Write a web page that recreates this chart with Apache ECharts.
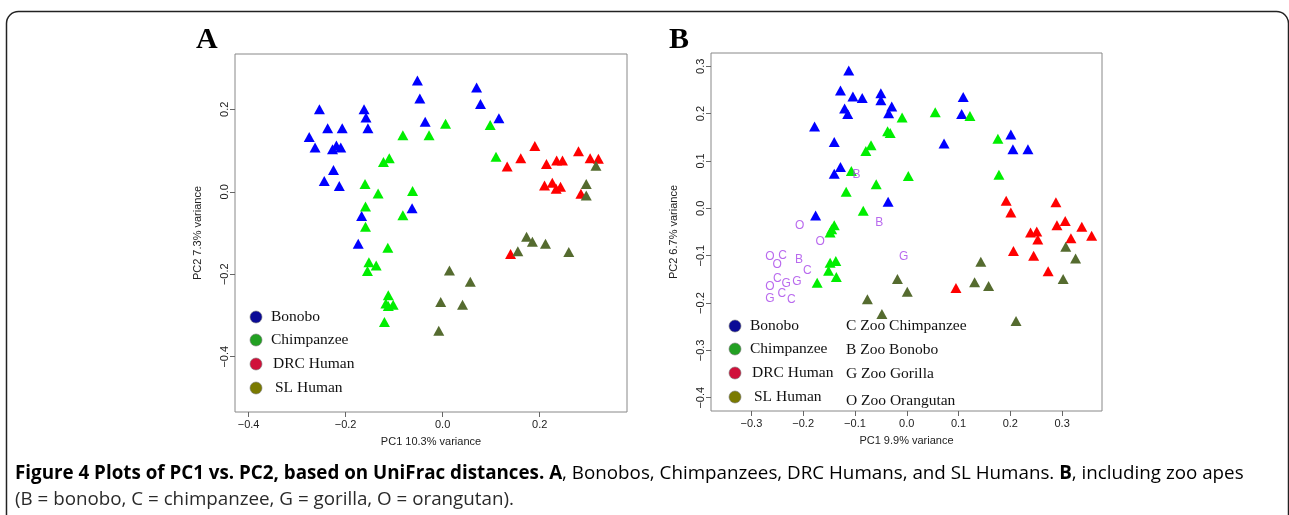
<!DOCTYPE html>
<html><head><meta charset="utf-8">
<script src="https://cdn.jsdelivr.net/npm/echarts@6/dist/echarts.min.js"></script>
<style>html,body{margin:0;padding:0;background:#fff}#c{width:1289px;height:515px}</style>
</head><body><div id="c"></div>
<script>
// ---------- Panel A data (PC1, PC2) ----------
const bonoboA = [[-0.254,0.200],[-0.275,0.133],[-0.263,0.107],[-0.237,0.154],[-0.207,0.154],[-0.219,0.112],[-0.227,0.103],[-0.210,0.107],[-0.225,0.053],[-0.244,0.026],[-0.213,0.014],[-0.162,0.200],[-0.158,0.180],[-0.154,0.154],[-0.052,0.270],[-0.047,0.226],[-0.036,0.170],[0.070,0.253],[0.078,0.213],[0.116,0.178],[-0.063,-0.040],[-0.167,-0.059],[-0.174,-0.126]];
const chimpA = [[0.006,0.165],[-0.082,0.137],[-0.028,0.137],[0.098,0.162],[0.110,0.085],[-0.122,0.072],[-0.110,0.081],[-0.160,0.019],[-0.133,-0.004],[-0.062,0.002],[-0.159,-0.036],[-0.082,-0.057],[-0.159,-0.085],[-0.113,-0.136],[-0.152,-0.171],[-0.137,-0.179],[-0.155,-0.192],[-0.112,-0.251],[-0.117,-0.271],[-0.112,-0.277],[-0.102,-0.274],[-0.120,-0.316]];
const drcA = [[0.190,0.111],[0.161,0.081],[0.133,0.061],[0.214,0.067],[0.235,0.076],[0.247,0.076],[0.280,0.098],[0.304,0.081],[0.321,0.080],[0.210,0.015],[0.226,0.022],[0.234,0.007],[0.243,0.012],[0.285,-0.005],[0.140,-0.151]];
const slA = [[0.316,0.063],[0.296,0.019],[0.296,-0.009],[0.173,-0.109],[0.185,-0.121],[0.212,-0.126],[0.155,-0.144],[0.260,-0.146],[0.014,-0.191],[0.057,-0.218],[-0.004,-0.267],[0.041,-0.274],[-0.008,-0.337]];

// ---------- Panel B data ----------
const bonoboB = [[-0.112,0.291],[-0.128,0.249],[-0.104,0.236],[-0.086,0.233],[-0.120,0.211],[-0.114,0.199],[-0.050,0.243],[-0.050,0.228],[-0.029,0.215],[-0.035,0.201],[0.109,0.235],[0.106,0.199],[0.072,0.137],[-0.178,0.173],[-0.140,0.140],[-0.128,0.087],[-0.140,0.073],[-0.036,0.014],[-0.176,-0.015],[0.201,0.156],[0.205,0.125],[0.234,0.125]];
const chimpB = [[0.055,0.203],[0.122,0.195],[-0.009,0.192],[-0.037,0.163],[-0.032,0.159],[-0.069,0.133],[-0.079,0.121],[-0.107,0.079],[-0.059,0.051],[0.003,0.068],[-0.117,0.035],[-0.084,-0.005],[0.176,0.147],[0.178,0.071],[-0.140,-0.036],[-0.145,-0.044],[-0.148,-0.051],[-0.148,-0.115],[-0.137,-0.111],[-0.151,-0.132],[-0.136,-0.145],[-0.173,-0.157]];
const drcB = [[0.192,0.016],[0.201,-0.009],[0.288,0.013],[0.290,-0.036],[0.306,-0.027],[0.338,-0.039],[0.357,-0.058],[0.239,-0.051],[0.251,-0.049],[0.253,-0.066],[0.317,-0.063],[0.206,-0.090],[0.245,-0.100],[0.273,-0.133],[0.095,-0.168]];
const slB = [[0.307,-0.081],[0.326,-0.106],[0.143,-0.113],[-0.018,-0.149],[0.001,-0.176],[-0.076,-0.192],[-0.048,-0.223],[0.131,-0.156],[0.158,-0.164],[0.302,-0.149],[0.211,-0.238]];
const zooC = [[-0.240,-0.101],[-0.192,-0.132],[-0.250,-0.148],[-0.241,-0.181],[-0.223,-0.192]];
const zooB = [[-0.097,0.070],[-0.053,-0.030],[-0.208,-0.108]];
const zooG = [[-0.233,-0.159],[-0.212,-0.155],[-0.264,-0.190],[-0.006,-0.102]];
const zooO = [[-0.207,-0.036],[-0.167,-0.070],[-0.264,-0.102],[-0.250,-0.120],[-0.264,-0.166]];

// ---------- ticks / labels ----------
const xTicksA = [-0.4,-0.2,0.0,0.2];
const yTicksA = [-0.4,-0.2,0.0,0.2];
const xTicksB = [-0.3,-0.2,-0.1,0.0,0.1,0.2,0.3];
const yTicksB = [-0.4,-0.3,-0.2,-0.1,0.0,0.1,0.2,0.3];
const groupNames = ['Bonobo','Chimpanzee','DRC Human','SL Human'];
const zooLetters = ['C','B','G','O'];
const zooLegend = ['C Zoo Chimpanzee','B Zoo Bonobo','G Zoo Gorilla','O Zoo Orangutan'];
const captionBold = 'Figure 4 Plots of PC1 vs. PC2, based on UniFrac distances.';

const pointColors = ['#0000ff','#00ee00','#ff0000','#556b2f'];
const legendColors = ['#0a0a96','#22a022','#d0103a','#7a7a00'];
const zooColor = '#a845ea';

const chart = echarts.init(document.getElementById('c'), null, {renderer:'canvas'});
const fmt = v => (Math.abs(v) < 1e-9 ? '0.0' : v.toFixed(1)).replace('-', '\u2212');
const axisCommon = (ticks, name, gap, isY) => ({
  type:'value', name, nameLocation:'middle', nameGap:gap,
  nameTextStyle:{fontFamily:'Liberation Sans', fontSize:11, color:'#222'},
  axisLine:{show:false, onZero:false}, splitLine:{show:false},
  axisTick:{show:true, inside:false, length:5, lineStyle:{color:'#666'}, customValues:ticks},
  axisLabel:{show:true, fontFamily:'Liberation Sans', fontSize:11, color:'#222', customValues:ticks,
    formatter:fmt, rotate: isY ? 90 : 0, margin: isY ? 5 : 7}
});

const tri = (data, color, xi) => ({type:'scatter', xAxisIndex:xi, yAxisIndex:xi, data,
  symbol:'triangle', symbolSize:[11,10], itemStyle:{color, opacity:1}, silent:true});
const letters = (data, letter) => ({type:'scatter', xAxisIndex:1, yAxisIndex:1, data,
  symbol:'circle', symbolSize:1, itemStyle:{color:'rgba(0,0,0,0)'}, silent:true,
  label:{show:true, position:'inside', formatter:letter, color:zooColor,
    fontFamily:'Liberation Sans', fontSize:12}});

const graphics = [];
graphics.push({type:'rect', shape:{x:6.5,y:11.5,width:1282,height:540,r:12},
  style:{fill:'none', stroke:'#222', lineWidth:1.5}, silent:true});
graphics.push({type:'text', left:196, top:25, style:{text:'A', font:'bold 30px "Liberation Serif"', fill:'#000'}});
graphics.push({type:'text', left:669, top:25, style:{text:'B', font:'bold 30px "Liberation Serif"', fill:'#000'}});
const legA = {cx:256, ys:[317,340,364,388], tx:[271,271,273,275]};
const legB = {cx:735, ys:[326,349,373,397], tx:[750,750,752,754]};
[legA, legB].forEach(L => {
  groupNames.forEach((n,i) => {
    graphics.push({type:'circle', shape:{cx:L.cx, cy:L.ys[i], r:6}, style:{fill:legendColors[i], stroke:'#777', lineWidth:0.6}});
    graphics.push({type:'text', x:L.tx[i], y:L.ys[i], style:{text:n, font:'15.5px "Liberation Serif"', fill:'#111', verticalAlign:'middle'}});
  });
});
const zooYs = [326,350,374,401];
zooLegend.forEach((n,i) => graphics.push({type:'text', x:846, y:zooYs[i],
  style:{text:n, font:'15.5px "Liberation Serif"', fill:'#111', verticalAlign:'middle'}}));
graphics.push({type:'text', x:15, y:474, style:{
  text:'{b|'+captionBold+' A}{n|, Bonobos, Chimpanzees, DRC Humans, and SL Humans. }{b|B}{n|, including zoo apes}',
  verticalAlign:'middle',
  rich:{b:{fontFamily:'Open Sans', fontWeight:'bold', fontSize:18.8, color:'#231f20'},
        n:{fontFamily:'Open Sans', fontSize:18.8, color:'#2a2a2a'}}}});
graphics.push({type:'text', x:15, y:500, style:{text:'(B = bonobo, C = chimpanzee, G = gorilla, O = orangutan).',
  font:'18.8px "Open Sans"', fill:'#2a2a2a', verticalAlign:'middle'}});

chart.setOption({
  animation:false,
  grid:[
    {left:235, top:54, width:392, height:358, show:true, borderColor:'#888', borderWidth:1, backgroundColor:'transparent'},
    {left:711, top:53, width:391, height:358, show:true, borderColor:'#888', borderWidth:1, backgroundColor:'transparent'}
  ],
  xAxis:[
    Object.assign(axisCommon(xTicksA,'PC1 10.3% variance',24,false),{gridIndex:0,min:-0.428,max:0.38}),
    Object.assign(axisCommon(xTicksB,'PC1 9.9% variance',24,false),{gridIndex:1,min:-0.378,max:0.377})
  ],
  yAxis:[
    Object.assign(axisCommon(yTicksA,'PC2 7.3% variance',32,true),{gridIndex:0,min:-0.534,max:0.334}),
    Object.assign(axisCommon(yTicksB,'PC2 6.7% variance',32,true),{gridIndex:1,min:-0.428,max:0.328})
  ],
  series:[
    tri(bonoboA,pointColors[0],0), tri(chimpA,pointColors[1],0), tri(drcA,pointColors[2],0), tri(slA,pointColors[3],0),
    tri(bonoboB,pointColors[0],1), tri(chimpB,pointColors[1],1), tri(drcB,pointColors[2],1), tri(slB,pointColors[3],1),
    letters(zooC,zooLetters[0]), letters(zooB,zooLetters[1]), letters(zooG,zooLetters[2]), letters(zooO,zooLetters[3])
  ],
  graphic:graphics
});
</script></body></html>
